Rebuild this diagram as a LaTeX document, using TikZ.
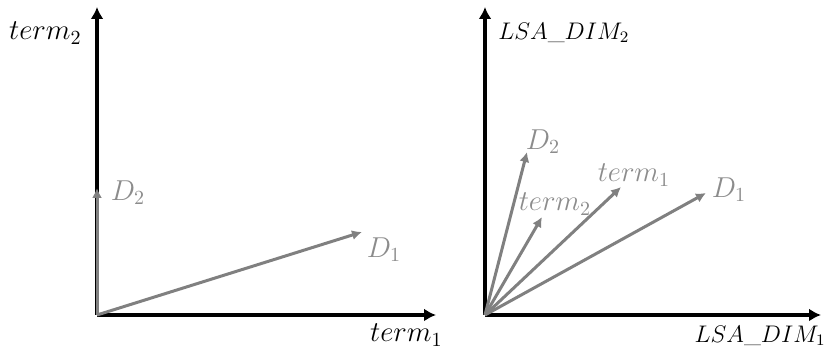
\documentclass[tikz,border=0pt]{standalone}
\usepackage{amsmath,amssymb}
\usepackage{xcolor}
\usepackage{tikz}
\usetikzlibrary{arrows.meta,positioning,calc}

\definecolor{vecgray}{RGB}{128,128,128}
\definecolor{labgray}{RGB}{140,140,140}

\begin{document}
\begin{tikzpicture}[
  x=0.5pt, y=-0.5pt,
  font=\fontsize{14}{16}\selectfont,
  axis/.style={-{Latex[length=6pt,width=6.5pt]}, line width=2pt, black},
  vec/.style={-{Latex[length=5pt,width=5pt]}, line width=1.5pt, draw=vecgray},
  axlabel/.style={inner sep=1pt, text=black},
  lsalabel/.style={axlabel, font=\fontsize{11.5}{14}\selectfont},
  veclabel/.style={inner sep=1pt, text=labgray},
]
\useasboundingbox (0,0) rectangle (830,351);

% term space
\coordinate (o1) at (97,315);
\coordinate (y1) at (97,7);
\coordinate (x1) at (436,315);
\coordinate (d2a) at (97,188);
\coordinate (d1a) at (362,232);

\draw[axis] (o1) -- (y1);
\draw[axis] (o1) -- (x1);
\draw[vec] (o1) -- (d2a);
\draw[vec] (o1) -- (d1a);

\node[axlabel, anchor=east] (t2a) at (84,33) {$term_2$};
\node[axlabel, anchor=east] (t1a) at (445,335) {$term_1$};
\node[veclabel] (D2a) at (128,193) {$D_2$};
\node[veclabel] (D1a) at (384,250) {$D_1$};

% LSA space
\coordinate (o2) at (485,315);
\coordinate (y2) at (485,7);
\coordinate (x2) at (821,315);
\coordinate (d2b) at (527,152);
\coordinate (t2b) at (542,217);
\coordinate (t1b) at (621,187);
\coordinate (d1b) at (706,193);

\draw[axis] (o2) -- (y2);
\draw[axis] (o2) -- (x2);
\draw[vec] (o2) -- (d2b);
\draw[vec] (o2) -- (t2b);
\draw[vec] (o2) -- (t1b);
\draw[vec] (o2) -- (d1b);

\node[lsalabel, anchor=west] (dim2) at (496,33) {$LSA\_DIM_2$};
\node[lsalabel, anchor=east] (dim1) at (828,336) {$LSA\_DIM_1$};
\node[veclabel] (D2b) at (543,142) {$D_2$};
\node[veclabel] (T2b) at (555,204) {$term_2$};
\node[veclabel] (T1b) at (634,175) {$term_1$};
\node[veclabel] (D1b) at (729,190) {$D_1$};

\end{tikzpicture}
\end{document}
